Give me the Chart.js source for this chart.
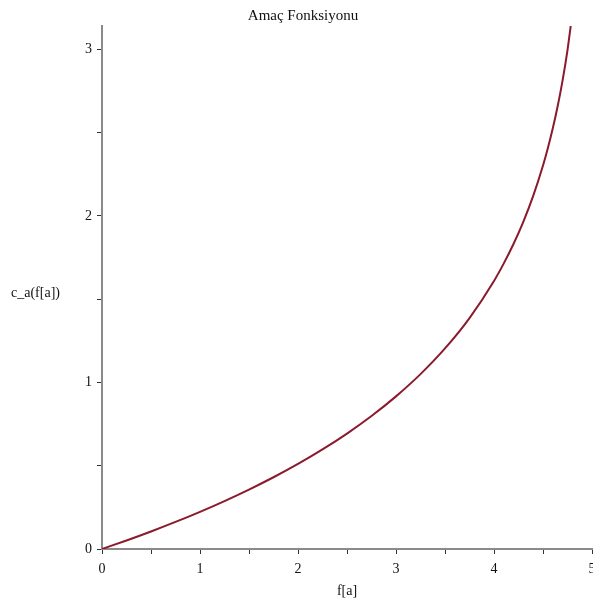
<!DOCTYPE html>
<html>
<head>
<meta charset="utf-8">
<script src="https://cdn.jsdelivr.net/npm/chart.js@4"></script>
<style>
  html, body { margin: 0; padding: 0; background: #fff; }
  #wrap { width: 593px; height: 604px; }
</style>
</head>
<body>
<div id="wrap"><canvas id="chart"></canvas></div>
<script>
// ── Amaç Fonksiyonu — c_a(f[a]) curve ───────────────────────────────────────

var fValues = [0, 0.25, 0.5, 0.75, 1, 1.25, 1.5, 1.75, 2, 2.25, 2.5, 2.75, 3, 3.25, 3.5,
               3.75, 4, 4.1, 4.2, 4.3, 4.4, 4.5, 4.55, 4.6, 4.65, 4.7, 4.75, 4.8];
var cValues = [0, 0.0513, 0.1054, 0.1625, 0.2231, 0.2877, 0.3567, 0.4308, 0.5108, 0.5978,
               0.6931, 0.7985, 0.9163, 1.0498, 1.2040, 1.3863, 1.6094, 1.7148, 1.8326, 1.9661,
               2.1203, 2.3026, 2.4079, 2.5257, 2.6593, 2.8134, 2.9957, 3.2189];
var xTicks = [0, 0.5, 1, 1.5, 2, 2.5, 3, 3.5, 4, 4.5, 5];
var yTicks = [0, 0.5, 1, 1.5, 2, 2.5, 3];

var titleText  = 'Amaç Fonksiyonu';
var xTitleText = 'f[a]';
var yTitleText = 'c_a(f[a])';

var serif = '"Liberation Serif", "Times New Roman", serif';

// Title and horizontal y label drawn by hand (Maple style)
var textPlugin = {
    id: 'mapleText',
    afterDraw: function (chart) {
        var ctx = chart.ctx;
        ctx.save();
        ctx.fillStyle    = '#111';
        ctx.textBaseline = 'middle';
        ctx.font         = '15px ' + serif;
        ctx.textAlign    = 'center';
        ctx.fillText(titleText, 303, 16);
        ctx.font         = '14px ' + serif;
        ctx.textAlign    = 'left';
        ctx.fillText(yTitleText, 11, 293);
        ctx.restore();
    }
};

function tickLabel(v) {
    return Number.isInteger(v) ? String(v) : '';
}

new Chart(document.getElementById('chart'), {
    type: 'scatter',
    data: {
        datasets: [{
            data: fValues.map(function (f, i) { return { x: f, y: cValues[i] }; }),
            showLine: true,
            borderColor: '#8a1a2c',
            borderWidth: 2,
            pointRadius: 0,
            cubicInterpolationMode: 'monotone',
            fill: false
        }]
    },
    options: {
        responsive: true,
        maintainAspectRatio: false,
        animation: false,
        layout: { padding: { top: 26, right: 1, left: 0, bottom: 0 } },
        plugins: {
            legend: { display: false },
            tooltip: { enabled: false }
        },
        scales: {
            x: {
                type: 'linear',
                min: 0,
                max: 5,
                afterBuildTicks: function (s) { s.ticks = xTicks.map(function (v) { return { value: v }; }); },
                afterFit: function (s) { s.height = 55; s.paddingRight = 0; s.paddingLeft = 0; },
                border: { color: '#8a8a8a', width: 2 },
                grid: { drawOnChartArea: false, drawTicks: true, tickLength: 5, tickColor: '#333', tickWidth: 1 },
                ticks: {
                    autoSkip: false,
                    maxRotation: 0,
                    padding: 7,
                    color: '#111',
                    font: { family: serif, size: 14 },
                    callback: tickLabel
                },
                title: {
                    display: true,
                    text: xTitleText,
                    color: '#111',
                    font: { family: serif, size: 14 },
                    padding: { top: 0, bottom: 4 }
                }
            },
            y: {
                type: 'linear',
                min: 0,
                max: 3.14,
                afterBuildTicks: function (s) { s.ticks = yTicks.map(function (v) { return { value: v }; }); },
                afterFit: function (s) { s.width = 102; s.paddingTop = 0; s.paddingBottom = 0; },
                border: { color: '#8a8a8a', width: 2 },
                grid: { drawOnChartArea: false, drawTicks: true, tickLength: 5, tickColor: '#333', tickWidth: 1 },
                ticks: {
                    autoSkip: false,
                    padding: 5,
                    color: '#111',
                    font: { family: serif, size: 14 },
                    callback: tickLabel
                }
            }
        }
    },
    plugins: [textPlugin]
});
</script>
</body>
</html>
